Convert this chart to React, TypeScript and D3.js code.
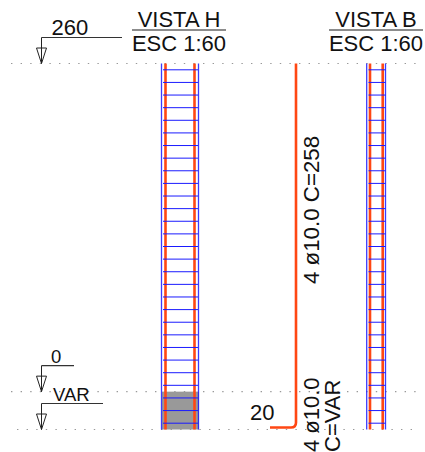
import React from "react";
import * as d3 from "d3";

const stirrupLevels = d3.range(-25, 256, 10);
const levelTop = 260;
const levelZero = 0;
const levelVar = -30;
const barLength = 20;
const views = ["VISTA H", "VISTA B"];
const scaleLabel = "ESC 1:60";
const barLabels = ["4 ø10.0 C=258", "4 ø10.0", "C=VAR"];
const dimLabels = ["260", "0", "VAR", "20"];

const y = d3.scaleLinear().domain([levelTop, levelVar]).range([63.5, 429.5]);
const FONT = "'Liberation Sans', Arial, sans-serif";
const RED = "#ff4713";
const BLUE = "#1a1aff";

function Level({ x, yy, lx, text, tx, fs }: { x: number; yy: number; lx: number; text: string; tx: number; fs: number }) {
  return (
    <g>
      <path d={`M${x} ${yy - 26}V${yy}`} stroke="#222" strokeWidth={1} fill="none" />
      <path d={`M${x} ${yy - 26}H${lx}`} stroke="#333" strokeWidth={1.2} fill="none" />
      <path d={`M${x - 5} ${yy - 15.5}H${x + 5}L${x} ${yy}Z`} stroke="#222" strokeWidth={1} fill="none" />
      <text x={tx} y={yy - 28.5} fontSize={fs} fontFamily={FONT} fill="#111">{text}</text>
    </g>
  );
}

function Column({ outer, red, st }: { outer: [number, number]; red: [number, number]; st: [number, number] }) {
  return (
    <g>
      {outer.map((x, i) => (
        <line key={i} x1={x} x2={x} y1={y(levelTop)} y2={y(levelVar)} stroke={BLUE} strokeWidth={1.3} opacity={0.85} />
      ))}
      {red.map((x, i) => (
        <line key={i} x1={x} x2={x} y1={y(levelTop)} y2={y(levelVar)} stroke={RED} strokeWidth={2.6} />
      ))}
      {stirrupLevels.map((l) => (
        <line key={l} x1={st[0]} x2={st[1]} y1={y(l)} y2={y(l)} stroke={BLUE} strokeWidth={1} />
      ))}
    </g>
  );
}

function Title({ x0, x1, label }: { x0: number; x1: number; label: string }) {
  const cx = (x0 + x1) / 2;
  return (
    <g fontFamily={FONT} fill="#111" fontSize={22} textAnchor="middle">
      <text x={cx} y={27}>{label}</text>
      <line x1={x0} x2={x1} y1={30} y2={30} stroke="#666" strokeWidth={1.6} />
      <text x={cx} y={50.5}>{scaleLabel}</text>
    </g>
  );
}

export default function App() {
  const barX = 296;
  const bottomY = y(levelVar) - 2;
  const hookX = barX - barLength * 1.3;
  return (
    <svg width={425} height={452} style={{ position: "absolute", left: 0, top: 0, background: "#fff" }}>
      {[
        { l: levelTop, x0: 11 },
        { l: levelZero, x0: 11 },
        { l: levelVar, x0: 17 },
      ].map(({ l, x0 }) => (
        <line key={l} x1={x0} x2={420} y1={y(l)} y2={y(l)} stroke="#999" strokeWidth={1.1} strokeDasharray="1.4 8.2" />
      ))}
      <rect x={162} width={37} y={y(levelZero)} height={y(levelVar) - y(levelZero)} fill="#999" />
      <Column outer={[161.5, 198.5]} red={[165.5, 194.5]} st={[163, 198]} />
      <Column outer={[366.7, 385.5]} red={[370, 382.7]} st={[368.5, 385.5]} />
      <Title x0={132} x1={226} label={views[0]} />
      <Title x0={329} x1={423} label={views[1]} />
      <Level x={41.5} yy={y(levelTop)} lx={122} text={dimLabels[0]} tx={51.5} fs={22} />
      <Level x={41.5} yy={y(levelZero)} lx={74} text={dimLabels[1]} tx={51} fs={18.5} />
      <Level x={41.5} yy={y(levelVar)} lx={103} text={dimLabels[2]} tx={53} fs={18.5} />
      <path
        d={`M${barX} ${y(levelTop)}V${bottomY - 5}Q${barX} ${bottomY} ${barX - 5} ${bottomY}H${hookX}`}
        fill="none"
        stroke={RED}
        strokeWidth={2.6}
      />
      <g fontFamily={FONT} fontSize={22} fill="#111">
        <text x={250} y={420}>{dimLabels[3]}</text>
        <text transform="translate(319,284)rotate(-90)" fontSize={22.3}>{barLabels[0]}</text>
        <text transform="translate(319,452)rotate(-90)">{barLabels[1]}</text>
        <text transform="translate(340,452)rotate(-90)">{barLabels[2]}</text>
      </g>
    </svg>
  );
}
